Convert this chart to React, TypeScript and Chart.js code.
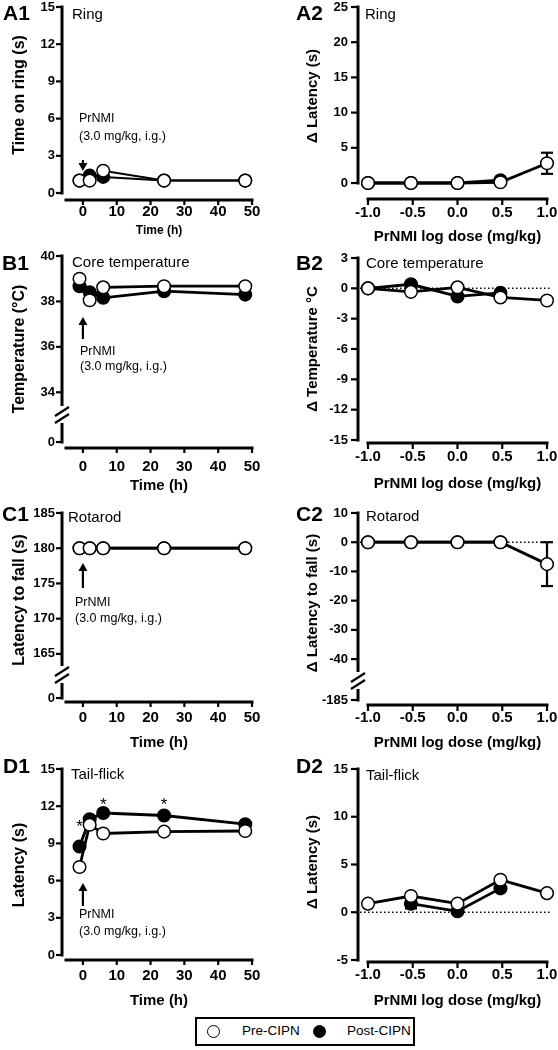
import React, { useEffect, useRef } from "react";
import { Chart, registerables } from "chart.js";

Chart.register(...registerables);

const FONT = "'Liberation Sans', Arial, Helvetica, sans-serif";

// ---------------- data ----------------
const timeHours = [-1, 2, 6, 24, 48];
const logDose = [-1, -0.52, 0, 0.48, 1];

const ringTimePre = [1.0, 1.0, 1.8, 1.0, 1.0];
const ringTimePost = [1.0, 1.4, 1.3, 1.0, 1.0];
const ringDeltaPre = [0, 0, 0, 0.1, 2.8];
const ringDeltaPreErr = [0, 0, 0, 0, 1.5];
const ringDeltaPost = [0, 0, 0, 0.4, null];

const tempPre = [39.0, 38.05, 38.62, 38.67, 38.67];
const tempPost = [38.67, 38.4, 38.16, 38.45, 38.3];
const tempDeltaPre = [0, -0.35, 0.1, -0.9, -1.2];
const tempDeltaPost = [0, 0.4, -0.8, -0.45, null];

const rotarodPre = [180, 180, 180, 180, 180];
const rotarodPost = [180, 180, 180, 180, 180];
const rotarodDeltaPre = [0, 0, 0, 0, -7.5];
const rotarodDeltaPreErr = [0, 0, 0, 0, 7.5];
const rotarodDeltaPost = [0, 0, 0, 0, null];

const tailPre = [7.1, 10.5, 9.8, 9.95, 10.0];
const tailPost = [8.75, 10.95, 11.45, 11.25, 10.55];
const tailDeltaPre = [0.9, 1.7, 0.9, 3.4, 2.0];
const tailDeltaPost = [null, 0.9, 0.1, 2.5, null];
const tailDeltaPostErr = [0, 0.5, 0, 0, 0];
const tailStarX = [-1, 6, 24];
const tailStarY = [10.6, 12.4, 12.4];

// ---------------- ticks ----------------
const timeTicks = [0, 10, 20, 30, 40, 50];
const doseTicks = [-1, -0.5, 0, 0.5, 1];
const ringTimeTicks = [0, 3, 6, 9, 12, 15];
const ringDeltaTicks = [0, 5, 10, 15, 20, 25];
const tempTicks = [34, 36, 38, 40];
const tempBreakTicks = [0];
const tempDeltaTicks = [-15, -12, -9, -6, -3, 0, 3];
const rotarodTicks = [165, 170, 175, 180, 185];
const rotarodBreakTicks = [0];
const rotarodDeltaTicks = [-40, -30, -20, -10, 0, 10];
const rotarodDeltaBreakTicks = [-185];
const tailTicks = [0, 3, 6, 9, 12, 15];
const tailDeltaTicks = [-5, 0, 5, 10, 15];

const PRE_LABEL = "Pre-CIPN";
const POST_LABEL = "Post-CIPN";

// ---------------- layout ----------------
const COLS = [
  { canvasX: 0, width: 279, areaL: 66, areaR: 252, yAxisX: 62, yTickRight: 55, yTickLen: 6, yTitleX: 20, yTitleSize: 16, xTickLen: 5 },
  { canvasX: 279, width: 279, areaL: 368, areaR: 547, yAxisX: 358, yTickRight: 348, yTickLen: 7, yTitleX: 312.5, yTitleSize: 15, xTickLen: 6 },
];

const Y_TICK_SIZE = 13;

type Series = { y: (number | null)[]; err?: number[]; filled: boolean; label: string };
type Panel = {
  label: string;
  labelPos: [number, number];
  title: string;
  titlePos: [number, number];
  col: number;
  row: [number, number];
  top: number;
  bottom: number;
  lineWidth: number;
  x: { values: number[]; min: number; max: number; ticks: number[]; fmt: (v: number) => string; title: string; tickSize: number; titleSize: number; tickCenter: number; titleCenter: number; axisY: number };
  y: { min: number; max: number; ticks: number[]; title: string; titleCenter: number };
  brk?: { at: number; min: number; max: number; ticks: number[] };
  series: Series[];
  zeroLine?: boolean;
  arrow?: { dir: "up" | "down"; tip: number; tail: number; t1: number; t2: number; left: number };
  stars?: { x: number[]; y: number[] };
};

const fmtInt = (v: number) => String(v);
const fmt1 = (v: number) => v.toFixed(1);

const timeX = (tickCenter: number, titleCenter: number, axisY: number, tickSize = 15, titleSize = 15) => ({
  values: timeHours, min: -5, max: 50, ticks: timeTicks, fmt: fmtInt, title: "Time (h)", tickSize, titleSize, tickCenter, titleCenter, axisY,
});
const doseX = (tickCenter: number, titleCenter: number, axisY: number) => ({
  values: logDose, min: -1, max: 1, ticks: doseTicks, fmt: fmt1, title: "PrNMI log dose (mg/kg)", tickSize: 15, titleSize: 15, tickCenter, titleCenter, axisY,
});

const PANELS: Panel[] = [
  {
    label: "A1", labelPos: [3, 14], title: "Ring", titlePos: [72, 15], col: 0, row: [0, 248], top: 7, bottom: 193, lineWidth: 2,
    x: timeX(212, 231, 200, 15, 12),
    y: { min: 0, max: 15, ticks: ringTimeTicks, title: "Time on ring (s)", titleCenter: 95 },
    series: [ { y: ringTimePre, filled: false, label: PRE_LABEL }, { y: ringTimePost, filled: true, label: POST_LABEL } ],
    arrow: { dir: "down", tip: 171, tail: 160, t1: 119, t2: 137, left: 79 },
  },
  {
    label: "A2", labelPos: [296, 14], title: "Ring", titlePos: [365, 15], col: 1, row: [0, 248], top: 7, bottom: 183, lineWidth: 2.8,
    x: doseX(213, 237, 199),
    y: { min: 0, max: 25, ticks: ringDeltaTicks, title: "\u0394 Latency (s)", titleCenter: 96 },
    series: [ { y: ringDeltaPre, err: ringDeltaPreErr, filled: false, label: PRE_LABEL }, { y: ringDeltaPost, filled: true, label: POST_LABEL } ],
  },
  {
    label: "B1", labelPos: [2, 264], title: "Core temperature", titlePos: [72, 263], col: 0, row: [248, 500], top: 256, bottom: 442, lineWidth: 2.8,
    x: timeX(467, 486, 448),
    y: { min: 33, max: 40, ticks: tempTicks, title: "Temperature (\u00B0C)", titleCenter: 349 },
    brk: { at: 415, min: 0, max: 1, ticks: tempBreakTicks },
    series: [ { y: tempPre, filled: false, label: PRE_LABEL }, { y: tempPost, filled: true, label: POST_LABEL } ],
    arrow: { dir: "up", tip: 317, tail: 339, t1: 352, t2: 367, left: 80 },
  },
  {
    label: "B2", labelPos: [296, 264], title: "Core temperature", titlePos: [366, 264], col: 1, row: [248, 500], top: 258, bottom: 440, lineWidth: 2.8,
    x: doseX(457, 484, 443),
    y: { min: -15, max: 3, ticks: tempDeltaTicks, title: "\u0394 Temperature \u00B0C", titleCenter: 349 },
    series: [ { y: tempDeltaPre, filled: false, label: PRE_LABEL }, { y: tempDeltaPost, filled: true, label: POST_LABEL } ],
    zeroLine: true,
  },
  {
    label: "C1", labelPos: [2, 515], title: "Rotarod", titlePos: [68, 518], col: 0, row: [500, 755], top: 513, bottom: 698, lineWidth: 2.8,
    x: timeX(718, 743, 702),
    y: { min: 162, max: 185, ticks: rotarodTicks, title: "Latency to fall (s)", titleCenter: 600 },
    brk: { at: 675, min: 0, max: 1, ticks: rotarodBreakTicks },
    series: [ { y: rotarodPre, filled: false, label: PRE_LABEL }, { y: rotarodPost, filled: true, label: POST_LABEL } ],
    arrow: { dir: "up", tip: 563, tail: 588, t1: 603, t2: 619, left: 75 },
  },
  {
    label: "C2", labelPos: [296, 515], title: "Rotarod", titlePos: [366, 517], col: 1, row: [500, 755], top: 513, bottom: 700, lineWidth: 2.8,
    x: doseX(718, 743, 705),
    y: { min: -47.5, max: 10, ticks: rotarodDeltaTicks, title: "\u0394 Latency to fall (s)", titleCenter: 603 },
    brk: { at: 681, min: -185, max: -180, ticks: rotarodDeltaBreakTicks },
    series: [ { y: rotarodDeltaPre, err: rotarodDeltaPreErr, filled: false, label: PRE_LABEL }, { y: rotarodDeltaPost, filled: true, label: POST_LABEL } ],
    zeroLine: true,
  },
  {
    label: "D1", labelPos: [3, 767], title: "Tail-flick", titlePos: [71, 775], col: 0, row: [755, 1014], top: 769, bottom: 955, lineWidth: 2.8,
    x: timeX(976, 1001, 960),
    y: { min: 0, max: 15, ticks: tailTicks, title: "Latency (s)", titleCenter: 865 },
    series: [ { y: tailPre, filled: false, label: PRE_LABEL }, { y: tailPost, filled: true, label: POST_LABEL } ],
    arrow: { dir: "up", tip: 883, tail: 906, t1: 915, t2: 932, left: 79 },
    stars: { x: tailStarX, y: tailStarY },
  },
  {
    label: "D2", labelPos: [296, 767], title: "Tail-flick", titlePos: [366, 776], col: 1, row: [755, 1014], top: 769, bottom: 960, lineWidth: 2.8,
    x: doseX(975, 1001, 962),
    y: { min: -5, max: 15, ticks: tailDeltaTicks, title: "\u0394 Latency (s)", titleCenter: 862 },
    series: [ { y: tailDeltaPre, filled: false, label: PRE_LABEL }, { y: tailDeltaPost, err: tailDeltaPostErr, filled: true, label: POST_LABEL } ],
    zeroLine: true,
  },
];

function seg(ctx: CanvasRenderingContext2D, x1: number, y1: number, x2: number, y2: number) {
  ctx.beginPath();
  ctx.moveTo(x1, y1);
  ctx.lineTo(x2, y2);
  ctx.stroke();
}

function decorPlugin(p: Panel) {
  const g = COLS[p.col];
  const ox = g.canvasX;
  const oy = p.row[0];
  return {
    id: "decor" + p.label,
    beforeDatasetsDraw(chart: any) {
      const ctx: CanvasRenderingContext2D = chart.ctx;
      const xs = chart.scales.x;
      const ys = chart.scales.y;
      const yb = chart.scales.yb;
      ctx.save();
      ctx.strokeStyle = "#000";
      ctx.fillStyle = "#000";
      const ax = g.yAxisX - ox;
      const lw = 3;
      ctx.lineWidth = lw;
      ctx.lineCap = "butt";
      const yTop = ys.getPixelForValue(p.y.max);
      if (p.brk && yb) {
        const mid = ys.bottom;
        const stubBottom = yb.getPixelForValue(p.brk.ticks[0]);
        seg(ctx, ax, yTop - lw / 2, ax, mid - 9);
        seg(ctx, ax, mid + 8, ax, stubBottom + lw / 2);
        ctx.lineWidth = 2.2;
        for (const d of [-3.5, 3.5]) seg(ctx, ax - 7, mid + d + 4.5, ax + 7, mid + d - 4.5);
        for (const v of p.brk.ticks) {
          const py = yb.getPixelForValue(v);
          seg(ctx, ax - g.yTickLen, py, ax, py);
        }
      } else {
        seg(ctx, ax, yTop - lw / 2, ax, ys.getPixelForValue(p.y.min) + lw / 2);
      }
      ctx.lineWidth = 2.2;
      for (const v of p.y.ticks) {
        const py = ys.getPixelForValue(v);
        seg(ctx, ax - g.yTickLen, py, ax, py);
      }
      // x axis
      const ay = p.x.axisY - oy;
      ctx.lineWidth = lw;
      seg(ctx, xs.left - lw / 2, ay, xs.right + lw / 2, ay);
      ctx.lineWidth = 2.2;
      for (const v of p.x.ticks) {
        const px = xs.getPixelForValue(v);
        seg(ctx, px, ay, px, ay + g.xTickLen);
      }
      // zero reference line
      if (p.zeroLine) {
        const y0 = ys.getPixelForValue(0);
        ctx.save();
        ctx.lineWidth = 1.5;
        ctx.setLineDash([1.5, 2.5]);
        seg(ctx, ax + 2, y0, xs.right + 4, y0);
        ctx.restore();
      }
      // error bars
      chart.data.datasets.forEach((ds: any, i: number) => {
        const meta = chart.getDatasetMeta(i);
        ds.data.forEach((pt: any, j: number) => {
          if (!pt.err) return;
          const el = meta.data[j];
          const t = ys.getPixelForValue(pt.y + pt.err);
          const b = ys.getPixelForValue(pt.y - pt.err);
          ctx.lineWidth = 2.2;
          seg(ctx, el.x, t, el.x, b);
          seg(ctx, el.x - 6, t, el.x + 6, t);
          seg(ctx, el.x - 6, b, el.x + 6, b);
        });
      });
      ctx.restore();
    },
    afterDraw(chart: any) {
      const ctx: CanvasRenderingContext2D = chart.ctx;
      const xs = chart.scales.x;
      const ys = chart.scales.y;
      ctx.save();
      ctx.fillStyle = "#000";
      ctx.strokeStyle = "#000";
      ctx.textBaseline = "middle";
      // panel label
      ctx.textAlign = "left";
      ctx.font = `bold 21px ${FONT}`;
      ctx.fillText(p.label, p.labelPos[0] - ox, p.labelPos[1] - oy);
      // panel title
      ctx.font = `15px ${FONT}`;
      ctx.fillText(p.title, p.titlePos[0] - ox, p.titlePos[1] - oy);
      // y title
      ctx.save();
      ctx.translate(g.yTitleX - ox, p.y.titleCenter - oy);
      ctx.rotate(-Math.PI / 2);
      ctx.textAlign = "center";
      ctx.font = `bold ${g.yTitleSize}px ${FONT}`;
      ctx.fillText(p.y.title, 0, 0);
      ctx.restore();
      // arrow annotation
      if (p.arrow) {
        const a = p.arrow;
        const x0 = xs.getPixelForValue(0);
        const tip = a.tip - oy;
        const tail = a.tail - oy;
        const dir = a.dir === "up" ? 1 : -1;
        const head = 8;
        ctx.lineWidth = 2.2;
        seg(ctx, x0, tail, x0, tip + dir * (head - 1));
        ctx.beginPath();
        ctx.moveTo(x0, tip);
        ctx.lineTo(x0 - 4.5, tip + dir * head);
        ctx.lineTo(x0 + 4.5, tip + dir * head);
        ctx.closePath();
        ctx.fill();
        ctx.textAlign = "left";
        ctx.font = `12.5px ${FONT}`;
        ctx.fillText("PrNMI", a.left - ox, a.t1 - oy);
        ctx.fillText("(3.0 mg/kg, i.g.)", a.left - ox, a.t2 - oy);
      }
      // significance stars
      if (p.stars) {
        ctx.textAlign = "center";
        ctx.font = `17px ${FONT}`;
        p.stars.x.forEach((sx, i) => {
          ctx.fillText("*", xs.getPixelForValue(sx), ys.getPixelForValue(p.stars!.y[i]) + 4);
        });
      }
      ctx.restore();
    },
  };
}

function buildConfig(p: Panel): any {
  const g = COLS[p.col];
  const cy = p.row[0];
  const yW = g.areaL - g.canvasX;
  const xTickLH = p.x.tickSize * 1.2;
  const xTitleLH = p.x.titleSize * 1.2;
  const xH = p.x.titleCenter - p.bottom + xTitleLH / 2;
  const padBottom = Math.max(0, p.row[1] - p.bottom - xH);
  const padTop = p.top - cy;
  const padRight = g.canvasX + g.width - g.areaR;
  const xTickPad = p.x.tickCenter - p.bottom - xTickLH / 2;

  const datasets = p.series.map((s) => ({
    label: s.label,
    data: p.x.values
      .map((x, i) => (s.y[i] == null ? null : { x, y: s.y[i] as number, err: s.err ? s.err[i] : 0 }))
      .filter((d) => d !== null),
    borderColor: "#000",
    borderWidth: p.lineWidth,
    backgroundColor: s.filled ? "#000" : "#fff",
    pointBackgroundColor: s.filled ? "#000" : "#fff",
    pointBorderColor: "#000",
    pointBorderWidth: 1.5,
    pointRadius: 6.3,
    pointHoverRadius: 6.3,
    tension: 0,
    fill: false,
    clip: false,
    xAxisID: "x",
    yAxisID: "y",
  }));

  const yTickCfg = {
    font: { size: Y_TICK_SIZE, weight: "bold", family: FONT },
    color: "#000",
    padding: g.areaL - g.yTickRight,
    callback: (v: number) => fmtInt(v),
    autoSkip: false,
  };

  const scales: any = {
    x: {
      type: "linear",
      position: "bottom",
      min: p.x.min,
      max: p.x.max,
      bounds: "data",
      grid: { display: false, drawTicks: false },
      border: { display: false },
      ticks: {
        font: { size: p.x.tickSize, weight: "bold", family: FONT },
        color: "#000",
        padding: xTickPad,
        maxRotation: 0,
        autoSkip: false,
        callback: (v: number) => p.x.fmt(v),
      },
      title: { display: true, text: p.x.title, color: "#000", padding: 0, font: { size: p.x.titleSize, weight: "bold", family: FONT } },
      afterBuildTicks: (s: any) => { s.ticks = p.x.ticks.map((v) => ({ value: v })); },
      afterFit: (s: any) => { s.height = xH; s.paddingLeft = 0; s.paddingRight = 0; },
    },
    y: {
      type: "linear",
      position: "left",
      min: p.y.min,
      max: p.y.max,
      bounds: "data",
      weight: 1,
      grid: { display: false, drawTicks: false },
      border: { display: false },
      ticks: yTickCfg,
      afterBuildTicks: (s: any) => { s.ticks = p.y.ticks.map((v) => ({ value: v })); },
      afterFit: (s: any) => { s.width = yW; s.paddingTop = 0; s.paddingBottom = 0; },
    },
  };

  if (p.brk) {
    const brk = p.brk;
    scales.y.stack = "ys";
    scales.y.stackWeight = brk.at - p.top;
    scales.yb = {
      type: "linear",
      position: "left",
      min: brk.min,
      max: brk.max,
      bounds: "data",
      weight: 0,
      stack: "ys",
      stackWeight: p.bottom - brk.at,
      grid: { display: false, drawTicks: false },
      border: { display: false },
      ticks: yTickCfg,
      afterBuildTicks: (s: any) => { s.ticks = brk.ticks.map((v) => ({ value: v })); },
      afterFit: (s: any) => { s.width = yW; s.paddingTop = 0; s.paddingBottom = 0; },
    };
  }

  return {
    type: "line",
    data: { datasets },
    options: {
      animation: false,
      responsive: false,
      devicePixelRatio: 1,
      events: [],
      layout: { autoPadding: false, padding: { left: 0, top: padTop, right: padRight, bottom: padBottom } },
      plugins: { legend: { display: false }, title: { display: false }, tooltip: { enabled: false } },
      scales,
    },
    plugins: [decorPlugin(p)],
  };
}

function PanelChart({ p }: { p: Panel }) {
  const ref = useRef<HTMLCanvasElement>(null);
  const g = COLS[p.col];
  const h = p.row[1] - p.row[0];
  useEffect(() => {
    if (!ref.current) return;
    const chart = new Chart(ref.current, buildConfig(p));
    return () => chart.destroy();
  }, []);
  return (
    <canvas
      ref={ref}
      width={g.width}
      height={h}
      style={{ position: "absolute", left: g.canvasX, top: p.row[0], width: g.width, height: h }}
    />
  );
}

function LegendMark({ filled, left }: { filled: boolean; left: number }) {
  return (
    <span
      style={{
        position: "absolute",
        left,
        top: 6,
        width: 13,
        height: 13,
        borderRadius: "50%",
        border: "1.5px solid #000",
        boxSizing: "border-box",
        background: filled ? "#000" : "#fff",
      }}
    />
  );
}

export default function App() {
  return (
    <div style={{ position: "absolute", left: 0, top: 0, width: 558, height: 1050, background: "#fff", overflow: "hidden" }}>
      {PANELS.map((p) => (
        <PanelChart key={p.label} p={p} />
      ))}
      <div
        style={{
          position: "absolute",
          left: 195,
          top: 1017,
          width: 220,
          height: 29,
          border: "2px solid #000",
          boxSizing: "border-box",
          fontFamily: FONT,
          fontSize: 13.5,
          color: "#000",
        }}
      >
        <LegendMark filled={false} left={10} />
        <span style={{ position: "absolute", left: 45, top: 4, lineHeight: "16px" }}>{PRE_LABEL}</span>
        <LegendMark filled={true} left={116} />
        <span style={{ position: "absolute", left: 150, top: 4, lineHeight: "16px" }}>{POST_LABEL}</span>
      </div>
    </div>
  );
}
